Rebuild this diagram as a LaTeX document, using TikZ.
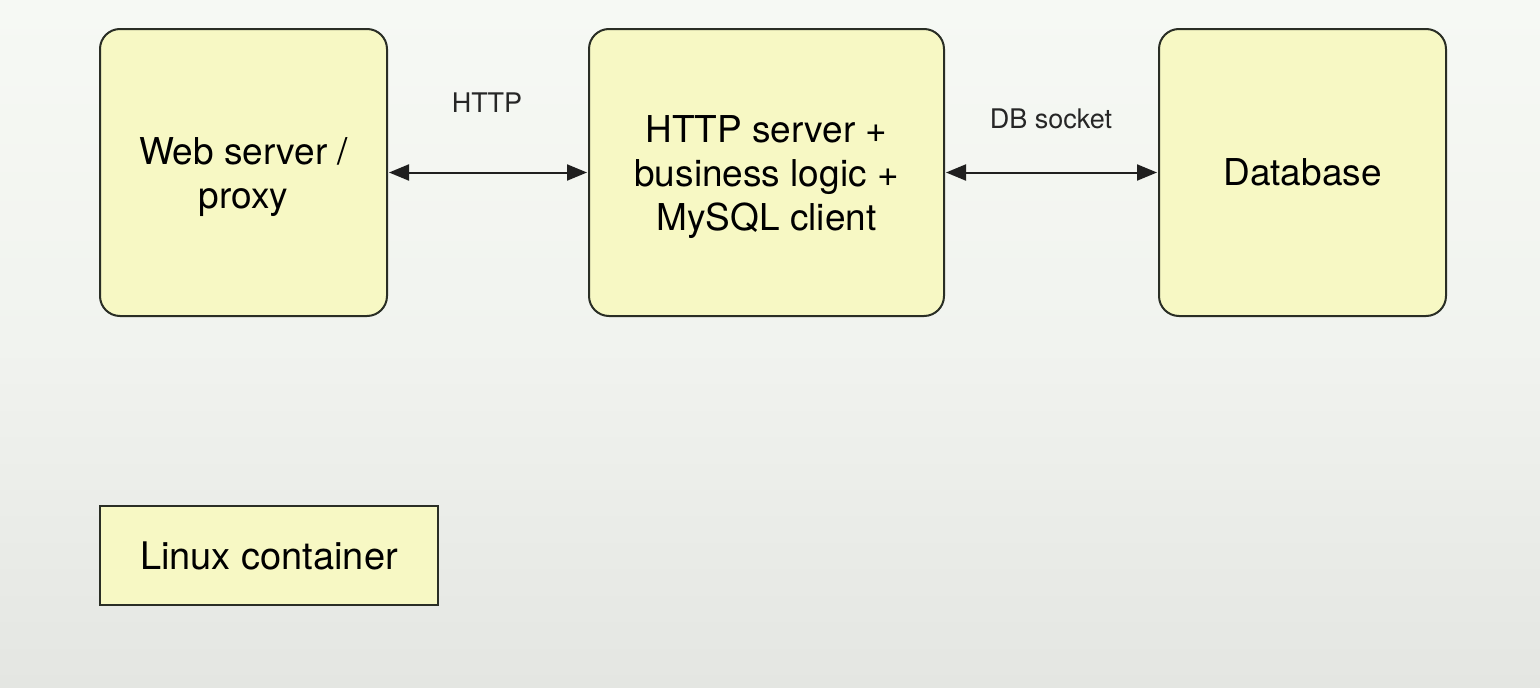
\documentclass[tikz,border=0pt]{standalone}
\usepackage{fontspec}
\setmainfont{TeX Gyre Heros}
\usetikzlibrary{arrows.meta}
\definecolor{boxfill}{HTML}{F7F8C4}
\definecolor{boxline}{HTML}{2A2E25}
\definecolor{bgtop}{HTML}{F6F9F4}
\definecolor{bgmid}{HTML}{F1F3EF}
\definecolor{bgbot}{HTML}{E4E6E2}
\newcommand{\boxlines}[1]{\raisebox{-5pt}[\height][\depth]{\begin{tabular}{@{}c@{}}#1\end{tabular}}}
\tikzset{
  roundbox/.style={draw=boxline, fill=boxfill, line width=2pt, rounded corners=20pt, font=\fontsize{37}{44}\selectfont, text=black, inner sep=0pt},
  squarebox/.style={draw=boxline, fill=boxfill, line width=2pt, font=\fontsize{38}{44}\selectfont, text=black, inner sep=0pt},
  link/.style={draw=black!88, line width=2pt, {Triangle[length=20pt,width=16pt]}-{Triangle[length=20pt,width=16pt]}, shorten <=1pt, shorten >=1pt},
  lbl/.style={font=\fontsize{27}{30}\selectfont, text=black!85, inner sep=0pt}
}
\begin{document}
\begin{tikzpicture}[x=1pt,y=-1pt]
\useasboundingbox (0,0) rectangle (1540,688);
\shade[top color=bgtop, bottom color=bgbot, middle color=bgmid] (0,0) rectangle (1540,688);
\node[roundbox, minimum width=287pt, minimum height=287pt] (web) at (243.5,172.5) {\boxlines{Web server /\\proxy}};
\node[roundbox, minimum width=355pt, minimum height=287pt] (app) at (766.5,172.5) {\boxlines{HTTP server +\\business logic +\\MySQL client}};
\node[roundbox, minimum width=287pt, minimum height=287pt] (db) at (1302.5,172.5) {Database};
\node[squarebox, minimum width=338pt, minimum height=99pt] (lxc) at (269,555.5) {Linux container};
\draw[link] (web.east) -- (app.west);
\draw[link] (app.east) -- (db.west);
\node[lbl] (httplbl) at (487,103) {HTTP};
\node[lbl] (dblbl) at (1051,119) {DB socket};
\end{tikzpicture}
\end{document}
